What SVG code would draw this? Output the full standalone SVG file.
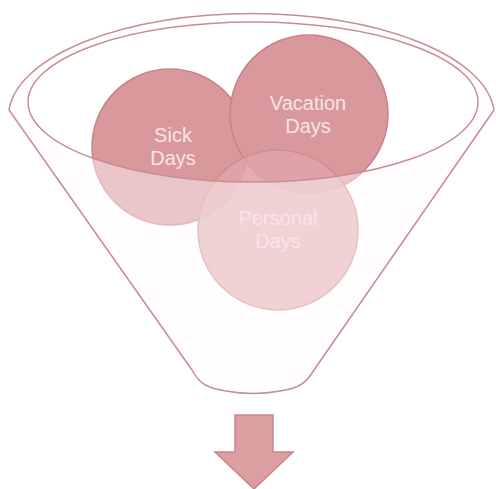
<svg xmlns="http://www.w3.org/2000/svg" width="496" height="489" viewBox="0 0 496 489">
<style>
.dark{fill:#d9989c;stroke:#c98286;stroke-width:1.5}
.pers{fill:#df a3a7;}
.pers{fill:#dfa3a7;stroke:#cf8c91;stroke-width:1.5;fill-opacity:0.88}
.lbl{font-family:"Liberation Sans",Arial,sans-serif;font-size:20px;fill:#f8e4e5;text-anchor:middle}
.line{fill:none;stroke:#c98d90;stroke-width:1.5}
</style>
<rect width="496" height="489" fill="#ffffff"/>
<g id="funnel-back">
<path d="M 9,110 A 243,103 0 0 1 494,110 L 314,370 C 306,383 300,388 280,391 Q 253,396 226,391 C 206,388 199,383 192,370 Z" fill="#fffbfb"/>
<ellipse cx="253" cy="102" rx="225" ry="80" fill="#ffffff"/>
</g>
<g id="sick">
<circle class="dark" cx="170" cy="147" r="78"/>
</g>
<g id="vacation">
<circle class="dark" cx="309" cy="114" r="79"/>
</g>
<g id="personal">
<circle class="pers" cx="278" cy="230" r="80"/>
</g>
<g id="funnel-front">
<path d="M 9,110 A 243,103 0 0 1 494,110 L 314,370 C 306,383 300,388 280,391 Q 253,396 226,391 C 206,388 199,383 192,370 Z M 28,102 A 225,80 0 1 0 478,102 A 225,80 0 1 0 28,102 Z" fill="#ffffff" fill-opacity="0.45" fill-rule="evenodd"/>
<path class="line" d="M 9,110 A 243,103 0 0 1 494,110 L 314,370 C 306,383 300,388 280,391 Q 253,396 226,391 C 206,388 199,383 192,370 Z"/>
<ellipse class="line" cx="253" cy="102" rx="225" ry="80"/>
</g>
<g id="labels">
<text class="lbl" x="173" y="142">Sick</text>
<text class="lbl" x="173" y="165">Days</text>
<text class="lbl" x="308" y="110">Vacation</text>
<text class="lbl" x="308" y="133">Days</text>
<text class="lbl" x="278" y="225">Personal</text>
<text class="lbl" x="278" y="248">Days</text>
</g>
<g id="connectors">
<path d="M 235,415 L 273,415 L 273,452 L 293,452 L 254,489 L 215,452 L 235,452 Z" fill="#dc9ea1" stroke="#c8868b" stroke-width="1.5" stroke-linejoin="miter"/>
</g>
</svg>
